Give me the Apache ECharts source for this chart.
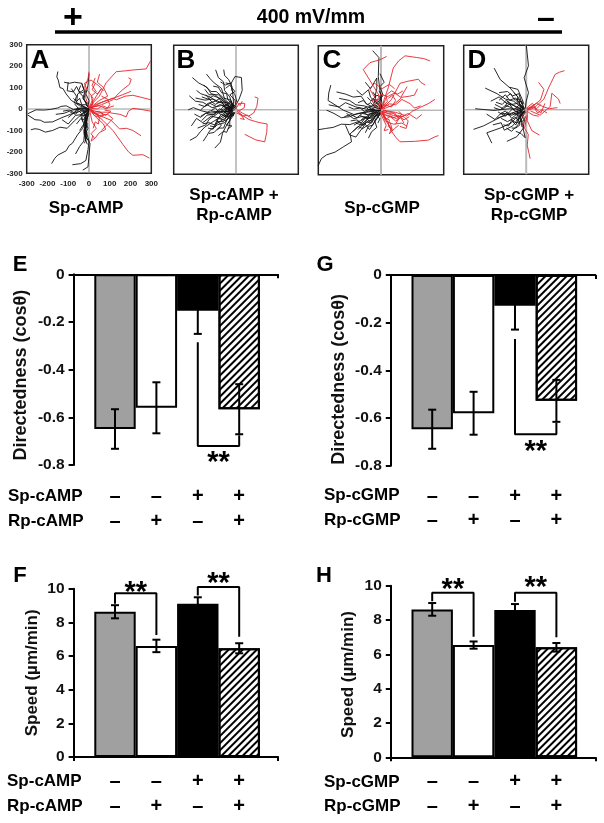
<!DOCTYPE html>
<html><head><meta charset="utf-8">
<style>html,body{margin:0;padding:0;background:#fff}#c{width:604px;height:823px}</style>
<script src="https://cdn.jsdelivr.net/npm/echarts@6/dist/echarts.min.js"></script></head>
<body><div id="c"></div>
<script>
// ---- track data (microns) ----
const tracksABlack=[
[[0,0],[-40,5],[-75,-2],[-110,15],[-135,12],[-150,5],[-185,-2],[-215,-5],[-255,-4],[-295,-22]],
[[-295,-28],[-260,-50],[-235,-52],[-215,-62],[-175,-60],[-130,-40],[-90,-25],[-40,-10],[0,0]],
[[-280,-97],[-260,-92],[-240,-95],[-210,-108],[-175,-100],[-140,-85],[-105,-90],[-70,-55],[-30,-20],[0,0]],
[[-150,175],[-155,150],[-148,135],[-140,100],[-125,95],[-110,70],[-85,40],[-45,15],[0,0]],
[[-120,125],[-95,120],[-70,125],[-35,120],[-25,90],[-40,80],[-55,70],[-60,30],[-20,10],[0,0]],
[[-100,125],[-105,85],[-75,80],[-60,105],[-45,75],[-30,60],[-10,15]],
[[-180,-255],[-165,-230],[-150,-215],[-110,-195],[-95,-170],[-80,-160],[-55,-120],[-30,-90],[-15,-40],[0,0]],
[[-80,-260],[-40,-255],[-15,-240],[-5,-190],[0,-150],[-15,-100],[-10,-50],[0,0]],
[[-30,-285],[-5,-270],[0,-220],[5,-160],[-15,-130],[-20,-70],[-8,-30],[0,0]],
[[-65,-210],[-45,-175],[-25,-150],[-20,-90],[-5,-30]],
[[-15,-150],[-25,-110],[-15,-80],[-22,-50],[-10,-20]],
[[-5,-145],[-20,-125],[-5,-90],[-15,-60],[0,-20]],
[[-130,-50],[-100,-70],[-65,-30],[-30,-25],[0,-5]],
[[-160,-25],[-120,-20],[-80,-5],[-40,0],[-10,0]],
[[-70,25],[-45,-5],[-20,-15],[0,-5]],
[[-35,120],[-20,80],[-30,50],[-15,30],[0,5]],
[[0,165],[-5,110],[-15,70],[0,40],[-5,10]],
[[-100,-40],[-70,-15],[-35,5],[0,0]],
[[-45,-100],[-25,-70],[-35,-40],[-10,-20]],
[[-85,95],[-60,60],[-70,30],[-40,20],[-15,5]],
[[-10,-120],[-18,-95],[-8,-70],[-18,-40],[-5,-10]],
[[-60,-70],[-40,-45],[-25,-50],[-12,-15]],
[[-22,-160],[-12,-135],[-22,-105],[-12,-85],[-20,-60],[-8,-35]],
[[-12,-130],[-25,-100],[-16,-75],[-10,-55],[-18,-25]],
[[-8,-165],[-18,-140],[-10,-110],[-22,-80],[-12,-45]],
[[-125,-10],[-95,-5],[-70,-18],[-55,5],[-25,-5]],
[[-75,50],[-60,35],[-45,50],[-35,20],[-15,20],[0,3]],
[[-40,110],[-50,85],[-35,75],[-15,85],[-25,45],[-8,25]],
[[-90,-15],[-65,-25],[-50,-8],[-35,-22],[-15,-8]],
[[-30,-60],[-40,-30],[-20,-30],[-25,-10],[-5,-5]]];
const tracksARed=[
[[0,0],[20,30],[50,60],[83,123],[131,174],[175,178],[211,182],[275,187],[298,227]],
[[0,0],[30,20],[70,35],[115,50],[131,43],[175,60],[211,64],[250,55],[298,43]],
[[5,-3],[50,-15],[90,-15],[115,-20],[150,-25],[179,-37],[190,-10],[211,3],[250,-2],[298,-10]],
[[10,-10],[40,-30],[67,-53],[115,-100],[163,-165],[190,-200],[211,-216],[259,-213],[291,-229]],
[[5,-5],[50,-30],[107,-53],[147,-93],[180,-90],[211,-100],[251,-125]],
[[5,5],[60,20],[115,43],[140,70],[163,91],[195,115],[203,139],[190,145]],
[[10,5],[60,30],[100,45],[130,55],[163,67],[203,83]],
[[0,5],[-15,50],[-20,107],[-5,140],[0,174]],
[[5,5],[50,40],[90,60],[70,100],[40,125],[51,163]],
[[0,5],[20,50],[-10,90],[-22,120],[10,135],[45,110],[70,85]],
[[3,-5],[35,-40],[70,-70],[80,-95],[50,-110],[30,-135],[10,-150],[19,-125]],
[[15,-15],[50,-30],[90,-25],[115,-45],[90,-70],[60,-100]],
[[8,8],[50,15],[85,0],[100,20],[90,45],[60,60]],
[[3,-5],[15,-60],[35,-90],[10,-115],[25,-135]],
[[8,0],[30,-20],[60,-18],[80,-30],[105,-10],[75,-5]],
[[5,10],[35,60],[60,95],[40,70],[15,90],[30,120]],
[[5,0],[25,-15],[50,-10],[70,-30],[55,-35],[35,-25]],
[[3,3],[20,25],[10,60],[35,80],[15,110],[30,145]],
[[10,-5],[25,-30],[50,-40],[45,-70],[30,-60],[20,-90]],
[[8,3],[40,0],[65,15],[90,5],[120,15]]];
const tracksBBlack=[
[[-15,5],[-60,30],[-100,70],[-120,75],[-140,105],[-180,125],[-210,150]],
[[-15,0],[-60,-25],[-110,-55],[-150,-80],[-170,-100],[-190,-125],[-222,-142]],
[[-15,-5],[-30,-50],[-50,-80],[-65,-110],[-75,-150],[-102,-178]],
[[-10,-10],[-55,-60],[-90,-70],[-125,-95],[-140,-120],[-158,-146]],
[[-15,10],[-30,60],[-55,90],[-60,130],[-85,150],[-98,186]],
[[-10,10],[-15,70],[-20,110],[-35,140],[-55,160],[-59,187]],
[[-20,15],[-55,50],[-70,100],[-105,125],[-125,145],[-142,166]],
[[-5,15],[15,50],[30,90],[26,150],[-5,155],[-25,120],[-50,125]],
[[-20,0],[-70,20],[-115,10],[-160,35],[-195,40],[-225,65]],
[[-20,-5],[-75,-10],[-120,-15],[-165,-5],[-205,10],[-230,0]],
[[-20,-10],[-70,-40],[-120,-30],[-160,-60],[-190,-40],[-215,-75]],
[[-15,-15],[-50,-50],[-85,-40],[-100,-80],[-125,-75]],
[[-10,15],[-40,35],[-90,35],[-125,60],[-170,75],[-190,90]],
[[-5,5],[-25,45],[-60,55],[-95,85],[-120,85],[-155,115]],
[[-15,5],[-50,-10],[-80,5],[-100,-20],[-140,-25],[-165,-50]],
[[-15,-5],[-40,-25],[-60,-55],[-95,-55],[-110,-90],[-135,-85]],
[[-10,5],[-35,15],[-75,55],[-100,40],[-135,30],[-170,0]],
[[-5,-10],[-15,-30],[-45,-70],[-20,-75],[-40,-90]],
[[-5,0],[-30,-5],[-50,25],[-85,-10],[-125,-5],[-170,-30]],
[[0,10],[-5,45],[-30,70],[-5,85],[-30,115],[-50,100]],
[[-20,-5],[-55,-30],[-85,-15],[-130,-45],[-145,-70],[-185,-85]],
[[-10,10],[-40,0],[-65,30],[-110,50],[-150,45],[-195,55]],
[[-25,5],[-45,35],[-85,70],[-130,70],[-150,95]],
[[-20,-15],[-45,-35],[-70,-20],[-95,-50],[-70,-70],[-90,-95]],
[[0,5],[-20,25],[-40,10],[-60,-20],[-30,-40],[-10,-20]],
[[-15,20],[-25,40],[-45,25],[-30,5],[-55,5]],
[[-200,-20],[-170,-35],[-145,-15],[-110,-25],[-90,-5],[-60,-15],[-30,-5]],
[[-180,25],[-150,15],[-125,30],[-95,15],[-75,25],[-45,10],[-20,10]],
[[-165,60],[-135,50],[-110,65],[-80,55],[-60,40],[-35,25]],
[[-160,-65],[-130,-60],[-105,-70],[-85,-60],[-55,-40],[-30,-15]],
[[-110,110],[-85,105],[-70,80],[-45,75],[-40,50],[-20,25]],
[[-130,-110],[-105,-105],[-85,-85],[-60,-85],[-45,-50],[-25,-25]],
[[-85,-120],[-60,-100],[-45,-105],[-30,-70],[-30,-40],[-10,-15]],
[[-75,130],[-50,115],[-25,125],[-20,90],[-5,70],[5,35]],
[[-40,-35],[-25,-20],[-40,-5],[-20,0],[-30,15],[-10,20]],
[[-75,-10],[-55,-5],[-45,-20],[-30,-15],[-20,-25],[-5,-15]],
[[-60,15],[-40,25],[-25,10],[-15,25],[0,15]],
[[-10,-25],[-30,-30],[-20,-10],[-35,5],[-15,15],[-25,-5]],
[[-120,-5],[-100,10],[-80,-15],[-60,5],[-40,-10],[-15,0]],
[[-145,70],[-120,40],[-100,25],[-70,40],[-45,-5]]];
const tracksBRed=[
[[5,-5],[30,-25],[62,-45],[95,-55],[115,-60],[150,-66],[148,-105],[138,-149],[95,-140],[42,-114]],
[[5,0],[30,-15],[60,-30],[85,-15],[100,15],[106,54],[90,60]],
[[0,5],[15,30],[42,30],[40,10],[15,-5]],
[[5,-8],[30,-30],[55,-25],[75,-40]],
[[-5,15],[5,35],[20,20],[30,40]],
[[3,-15],[25,-25],[40,-45],[20,-40]]];
const tracksCBlack=[
[[-301,-259],[-285,-225],[-261,-208],[-220,-195],[-181,-171],[-141,-147],[-148,-110],[-100,-70],[-50,-30],[0,0]],
[[-301,-91],[-265,-85],[-229,-80],[-190,-65],[-149,-67],[-100,-50],[-69,-35],[-20,-5]],
[[-240,117],[-250,80],[-253,45],[-220,25],[-180,0],[-130,-20],[-70,-10],[0,0]],
[[-213,85],[-170,75],[-133,61],[-95,65],[-70,30],[-40,15],[0,5]],
[[-40,277],[-10,245],[-5,237],[-13,157],[-5,90],[5,30],[0,5]],
[[-117,93],[-90,70],[-60,95],[-50,60],[-25,40],[0,10]],
[[-250,25],[-200,15],[-170,35],[-120,15],[-70,5],[-10,0]],
[[-260,0],[-225,-15],[-190,-35],[-150,-30],[-110,-15],[-60,-5],[-5,0]],
[[-170,-70],[-150,-115],[-120,-125],[-95,-90],[-55,-65],[-20,-20]],
[[-110,-90],[-80,-60],[-55,-90],[-30,-55],[0,-10]],
[[-120,-60],[-90,-70],[-60,-50],[-40,-45],[-10,-10]],
[[-75,130],[-50,100],[-20,150],[-20,100],[-30,60],[0,10]],
[[-5,170],[15,130],[-5,110],[10,70],[-10,40]],
[[-165,-15],[-130,-40],[-95,-30],[-50,-35],[-10,-5]],
[[-200,55],[-150,45],[-120,25],[-80,20],[-30,5]],
[[-60,-130],[-45,-100],[-20,-80],[-30,-50],[0,-15]],
[[-100,-25],[-60,-40],[-30,-10],[-60,15],[-25,25],[0,5]],
[[-50,40],[-20,70],[0,60],[-5,35],[5,10]],
[[-135,-100],[-110,-75],[-90,-85],[-70,-55],[-45,-60],[-25,-25]],
[[-145,-50],[-115,-45],[-95,-60],[-75,-35],[-50,-15],[-20,-10]],
[[-75,-105],[-60,-75],[-40,-70],[-25,-40],[-15,-30],[0,-5]],
[[-85,-10],[-60,-25],[-40,-10],[-25,-25],[-5,-8]],
[[-10,90],[5,65],[-15,45],[0,25],[-8,5]],
[[-15,-60],[-5,-40],[-20,-25],[-5,-10]],
[[-155,15],[-130,5],[-100,10],[-80,-5],[-50,5],[-25,-3]],
[[-40,85],[-25,65],[-30,35],[-10,25],[5,5]],
[[-130,-70],[-105,-55],[-85,-70],[-65,-40],[-40,-35],[-15,-15]],
[[-175,-30],[-145,-20],[-115,-35],[-90,-15],[-65,-20],[-30,-12]],
[[-110,35],[-85,45],[-65,25],[-50,35],[-30,15],[-8,5]],
[[-95,-45],[-75,-30],[-55,-55],[-35,-30],[-15,-25],[0,-8]],
[[-65,60],[-50,45],[-30,50],[-35,25],[-15,15]],
[[-90,5],[-70,15],[-55,-5],[-35,5],[-20,-10],[-3,0]]];
const tracksCRed=[
[[5,5],[15,50],[35,105],[59,197],[85,230],[115,253],[171,245],[205,240],[235,229]],
[[8,-10],[30,-50],[51,-99],[70,-125],[91,-147],[160,-145],[227,-139],[255,-125],[275,-118]],
[[10,0],[70,-10],[123,-27],[150,-5],[187,13],[225,30],[258,50]],
[[0,5],[-10,70],[-35,110],[-85,189],[-53,221],[-5,235],[27,250]],
[[5,5],[50,50],[91,125],[130,135],[179,144],[190,130],[211,117]],
[[10,5],[60,25],[100,60],[135,65],[160,70],[175,100]],
[[5,-5],[60,-25],[110,-30],[130,-50],[120,-85],[90,-75]],
[[5,-5],[30,-60],[50,-85],[40,-110],[65,-85],[85,-70]],
[[0,8],[-30,60],[-55,100],[-30,125],[5,100],[40,120],[65,100]],
[[5,5],[40,30],[70,25],[100,50],[140,30],[160,10],[190,20]],
[[8,-3],[50,-10],[90,-35],[130,-15],[170,-40],[195,-20]],
[[5,10],[25,60],[65,80],[95,60],[125,110]],
[[5,-10],[20,-50],[60,-65],[100,-60],[125,-75]],
[[3,-3],[25,-25],[60,-35],[85,-25],[110,-45],[135,-30]],
[[5,-5],[15,-35],[40,-45],[35,-75],[55,-95],[45,-60]],
[[3,3],[20,25],[50,15],[70,45],[55,70],[35,55]],
[[-10,5],[-30,20],[-45,50],[-20,45],[0,75],[25,65]],
[[10,-20],[40,-25],[75,-40],[100,-20],[85,-5]],
[[-5,-5],[10,-40],[25,-70],[15,-95],[35,-90]],
[[5,-15],[25,-40],[45,-30],[70,-50],[95,-35],[110,-60]],
[[5,15],[30,40],[25,70],[50,90],[80,75],[105,90]],
[[8,-8],[35,-15],[65,-12],[85,-40],[70,-65]]];
const tracksDBlack=[
[[0,304],[11,205],[-10,149],[11,80],[0,40],[-5,5]],
[[-154,194],[-125,141],[-77,101],[-40,60],[-10,10]],
[[-197,101],[-140,75],[-100,50],[-60,40],[-15,5]],
[[-253,-91],[-205,-75],[-125,-35],[-70,-15],[-15,0]],
[[-165,-155],[-189,-107],[-125,-85],[-70,-60],[-20,-5]],
[[-93,-147],[-45,-125],[-13,-85],[-30,-20],[-5,-5]],
[[-245,5],[-155,-3],[-80,5],[-25,3]],
[[-170,40],[-130,60],[-95,30],[-60,20],[-15,0]],
[[-190,-20],[-150,-45],[-120,-15],[-70,-25],[-15,-5]],
[[-160,-70],[-120,-60],[-105,-95],[-65,-75],[-30,-30],[-5,-5]],
[[-130,80],[-90,85],[-65,65],[-35,75],[-20,25]],
[[-150,25],[-110,5],[-75,30],[-45,10],[-10,0]],
[[-95,-85],[-70,-100],[-40,-70],[-20,-40],[-5,-10]],
[[-120,-40],[-90,-55],[-50,-35],[-40,-50],[-10,-5]],
[[-130,45],[-100,70],[-80,45],[-50,55],[-15,5]],
[[-135,-10],[-100,-30],[-65,5],[-40,-15],[-15,0]],
[[-100,15],[-90,40],[-60,0],[-30,25],[-5,5]],
[[-75,-45],[-50,-60],[-25,-55],[-30,-30],[-5,-5]],
[[-50,-100],[-25,-110],[-5,-130],[-15,-85],[-5,-30]],
[[-80,105],[-40,95],[-20,50],[-10,25]],
[[-145,35],[-115,25],[-95,45],[-70,25],[-40,30],[-10,5]],
[[-125,-20],[-100,-5],[-85,-25],[-60,-15],[-35,-30],[-8,-3]],
[[-110,-70],[-85,-75],[-70,-50],[-50,-70],[-35,-45],[-15,-15]],
[[-95,60],[-75,75],[-55,45],[-35,50],[-30,20],[-8,5]],
[[-60,80],[-40,60],[-45,35],[-20,40],[-15,15]],
[[-155,10],[-125,0],[-100,20],[-70,10],[-50,-10],[-25,0]],
[[-140,-40],[-115,-30],[-90,-10],[-70,-40],[-45,-20],[-15,-10]],
[[-60,-15],[-40,-25],[-45,5],[-25,-10],[-30,15],[-8,3]],
[[-70,-85],[-50,-85],[-30,-70],[-40,-35],[-15,-25]],
[[-20,-80],[-25,-55],[-10,-50],[-20,-25],[-3,-10]]];
const tracksDRed=[
[[184,182],[160,175],[139,165],[107,101],[85,50],[45,15],[3,3]],
[[59,128],[85,95],[68,45],[35,20],[5,0]],
[[163,29],[155,50],[123,77],[115,15],[67,-25],[20,-5]],
[[19,-227],[5,-165],[10,-115],[-8,-85],[5,-25]],
[[64,-118],[27,-97],[5,-50],[5,-5]],
[[150,10],[110,5],[80,15],[50,30],[5,5]],
[[90,30],[70,-15],[40,10],[5,-3]],
[[60,-30],[35,-25],[15,-15],[3,-3]],
[[100,-15],[75,0],[55,-15],[35,15],[10,3]],
[[-20,-70],[-5,-50],[-20,-30],[0,-10]],
[[70,25],[50,5],[30,30],[10,15],[3,5]]];
// ---- tick labels ----
const trackTicks=[-300,-200,-100,0,100,200,300];
// ---- bar data ----
const dirCampVals=[-0.649,-0.56,-0.153,-0.566], dirCampErr=[0.083,0.107,0.097,0.105];
const dirCgmpVals=[-0.647,-0.58,-0.129,-0.528], dirCgmpErr=[0.082,0.09,0.1,0.088];
const spdCampVals=[8.63,6.6,9.1,6.46], spdCampErr=[0.39,0.37,0.39,0.3];
const spdCgmpVals=[8.62,6.54,8.58,6.41], spdCgmpErr=[0.37,0.21,0.35,0.25];
const spSigns=['–','–','+','+'], rpSigns=['–','+','–','+'];
const brE=[[3,-0.285],[3,-0.72],[4,-0.72],[4,-0.675]];
const brG=[[3,-0.268],[3,-0.668],[4,-0.668],[4,-0.62]];
const brF1=[[1,9.1],[1,9.73],[2,9.73],[2,7.25]], brF2=[[3,9.6],[3,10.1],[4,10.1],[4,7.15]];
const brH1=[[1,9.1],[1,9.59],[2,9.59],[2,7.03]], brH2=[[3,9.07],[3,9.59],[4,9.59],[4,7.0]];
const FONT='"Liberation Sans",Arial,sans-serif';
const RED='#e4252c', INK='#111';

const grids=[],xAxes=[],yAxes=[],series=[];
function panel(x,y,w,h,black,red,withLabels,crossColor,crossW){
  const i=grids.length;
  grids.push({left:x,top:y,width:w,height:h,show:true,backgroundColor:'#fff',borderColor:'#222',borderWidth:1.5});
  const ax={type:'value',min:-300,max:300,interval:100,splitLine:{show:false},axisLine:{show:false},axisTick:{show:false},
    axisLabel:{show:withLabels,fontFamily:FONT,fontWeight:'bold',fontSize:8,color:'#222',margin:4,customValues:trackTicks,hideOverlap:false}};
  xAxes.push({...ax,gridIndex:i,axisLabel:{...ax.axisLabel,margin:6}}); yAxes.push({...ax,gridIndex:i});
  const base={type:'line',xAxisIndex:i,yAxisIndex:i,showSymbol:false,symbol:'none',silent:true,animation:false};
  series.push({...base,data:[[-300,0],[300,0]],lineStyle:{color:'#999',width:1}});
  series.push({...base,data:[[0,-300],[0,300]],lineStyle:{color:crossColor,width:crossW}});
  black.forEach(d=>series.push({...base,data:d,lineStyle:{color:INK,width:0.9}}));
  red.forEach(d=>series.push({...base,data:d,lineStyle:{color:RED,width:0.9}}));
}
const fills=[{color:'#a0a0a0'},{color:'#fff'},{color:'#000'},
 {color:'#fff',decal:{symbol:'rect',dashArrayX:[1,0],dashArrayY:[1.7,2.9],rotation:-Math.PI/4,color:'#000',symbolSize:1}}];
function barPanel(x,y,h,vals,errs,ymin,ymax,step,yname,nameGap,namePad,nameSize,axisTop,brackets,stars,rowOff,rowStep){
  const i=grids.length;
  grids.push({left:x,top:y,width:204.5,height:h});
  xAxes.push({gridIndex:i,type:'value',min:0,max:4.94,interval:4.94,position:axisTop?'top':'bottom',
    splitLine:{show:false},axisLabel:{show:false},
    axisLine:{lineStyle:{color:'#000',width:2}},axisTick:{show:true,inside:axisTop,length:4,lineStyle:{color:'#000',width:2}}});
  yAxes.push({gridIndex:i,type:'value',min:ymin,max:ymax,interval:step,splitLine:{show:false},
    axisLine:{show:true,lineStyle:{color:'#000',width:2}},axisTick:{show:true,length:5,lineStyle:{color:'#000',width:2}},
    axisLabel:{fontFamily:FONT,fontWeight:'bold',fontSize:15.5,color:'#111',margin:9},
    name:yname,nameLocation:'middle',nameGap:nameGap,nameRotate:90,nameMoveOverlap:false,
    nameTextStyle:{fontFamily:FONT,fontWeight:'bold',fontSize:nameSize,color:'#111',padding:[0,namePad,0,0]}});
  const xs=[1,2,3,4];
  series.push({type:'bar',xAxisIndex:i,yAxisIndex:i,barWidth:41.4,silent:true,animation:false,clip:false,z:2,
    data:vals.map((v,k)=>({value:[xs[k],v],itemStyle:{...fills[k],borderColor:'#000',borderWidth:2}}))});
  series.push({type:'custom',xAxisIndex:i,yAxisIndex:i,silent:true,animation:false,z:4,clip:false,
    data:vals.map((v,k)=>[xs[k],v-errs[k],v+errs[k]]),
    encode:{x:0,y:[1,2]},
    renderItem:(p,api)=>{
      const a=api.coord([api.value(0),api.value(1)]),b=api.coord([api.value(0),api.value(2)]);
      const st={stroke:'#000',lineWidth:2,fill:null};
      const line=(x1,y1,x2,y2)=>({type:'line',shape:{x1,y1,x2,y2},style:st});
      return {type:'group',children:[line(a[0],a[1],b[0],b[1]),line(a[0]-4,a[1],a[0]+4,a[1]),line(b[0]-4,b[1],b[0]+4,b[1])]};
    }});
  brackets.forEach(b=>series.push({type:'line',xAxisIndex:i,yAxisIndex:i,data:b,showSymbol:false,symbol:'none',silent:true,animation:false,z:5,clip:false,lineStyle:{color:'#000',width:2}}));
  const ghost={color:'transparent',opacity:1};
  series.push({type:'scatter',xAxisIndex:i,yAxisIndex:i,symbolSize:1,itemStyle:ghost,silent:true,animation:false,z:6,clip:false,
    data:stars,label:{show:true,position:'inside',formatter:'**',fontFamily:FONT,fontWeight:'bold',fontSize:29,color:'#000',offset:[0,5]}});
  const rowLabel=(signs,off)=>series.push({type:'scatter',xAxisIndex:i,yAxisIndex:i,symbolSize:1,itemStyle:ghost,silent:true,animation:false,clip:false,z:6,
    data:xs.map(v=>[v,axisTop?ymin:0]),
    label:{show:true,position:'inside',offset:[0,off],formatter:p=>signs[p.dataIndex],fontFamily:FONT,fontWeight:'bold',fontSize:20,color:'#000'}});
  rowLabel(spSigns,rowOff); rowLabel(rpSigns,rowOff+rowStep);
}
panel(26.7,44.7,124.6,128.6,tracksABlack,tracksARed,true,'#888',1);
panel(173.7,45.3,124.6,129,tracksBBlack,tracksBRed,false,'#888',1);
panel(318.3,45.7,125.4,129,tracksCBlack,tracksCRed,false,'#bbb',2);
panel(463.7,45.3,125,129,tracksDBlack,tracksDRed,false,'#bbb',2);
barPanel(73.6,274.3,190.7,dirCampVals,dirCampErr,-0.8,0,0.2,'Directedness (cosθ)',43.6,11,18,true,[brE],[[3.5,-0.77]],31.5,24.5);
barPanel(73.6,588.7,168.3,spdCampVals,spdCampErr,0,10,2,'Speed (µm/min)',33,0,17,false,[brF1,brF2],[[1.5,10.05],[3.5,10.6]],24.5,25);
barPanel(390.8,275,190.7,dirCgmpVals,dirCgmpErr,-0.8,0,0.2,'Directedness (cosθ)',43,18,18,true,[brG],[[3.5,-0.72]],30.5,24.5);
barPanel(390.8,585.7,171.6,spdCgmpVals,spdCgmpErr,0,10,2,'Speed (µm/min)',34,6,17,false,[brH1,brH2],[[1.5,10.05],[3.5,10.15]],24.5,25);

const T=(text,x,y,size,align)=>({type:'text',x,y,silent:true,style:{text,fontFamily:FONT,fontWeight:'bold',fontSize:size,fill:'#000',textAlign:align||'center',textVerticalAlign:'middle'}});
const graphic=[
 {type:'line',shape:{x1:55,y1:32,x2:562,y2:32},style:{stroke:'#000',lineWidth:3.5},silent:true},
 T('+',73,18.5,34),T('400 mV/mm',311,17.5,19.5),T('–',546,19,32),
 T('A',40,61,26),T('B',186,61,26),T('C',332,61,26),T('D',477,61,26),
 T('E',20,265,22),T('G',325,265,22),T('F',20,576,22),T('H',324,576,22),
 T('Sp-cAMP',86,208,17),T('Sp-cAMP +',234,195,17),T('Rp-cAMP',234,215,17),
 T('Sp-cGMP',382,208,17),T('Sp-cGMP +',529,195,17),T('Rp-cGMP',529,215,17),
 T('Sp-cAMP',8,496.5,17,'left'),T('Rp-cAMP',8,521,17,'left'),
 T('Sp-cAMP',7,781.5,17,'left'),T('Rp-cAMP',7,806.5,17,'left'),
 T('Sp-cGMP',324,495.5,17,'left'),T('Rp-cGMP',324,520,17,'left'),
 T('Sp-cGMP',324,782,17,'left'),T('Rp-cGMP',324,806.5,17,'left')
];
const chart=echarts.init(document.getElementById('c'),null,{renderer:'canvas'});
chart.setOption({backgroundColor:'#fff',animation:false,grid:grids,xAxis:xAxes,yAxis:yAxes,series,graphic});
</script></body></html>
